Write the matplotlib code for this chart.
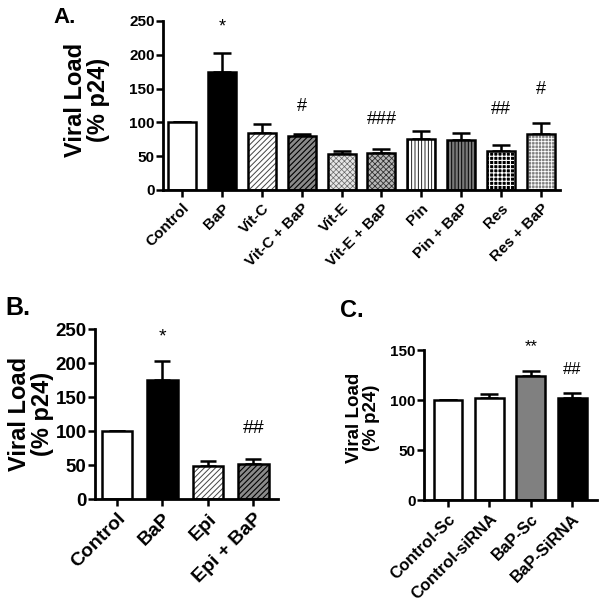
import numpy as np
import matplotlib
matplotlib.use("Agg")
import matplotlib.pyplot as plt

plt.rcParams['font.family'] = ['Liberation Sans', 'DejaVu Sans']
plt.rcParams['font.weight'] = 'bold'

# Panel A data
a_labels = ['Control', 'BaP', 'Vit-C', 'Vit-C + BaP', 'Vit-E', 'Vit-E + BaP',
            'Pin', 'Pin + BaP', 'Res', 'Res + BaP']
a_values = [100, 175, 84, 80, 53, 55, 76, 74, 57, 83]
a_err = [0, 28, 14, 3, 4, 5, 11, 10, 9, 16]
a_marks = ['', '*', '', '#', '', '###', '', '', '##', '#']
a_mark_y = [0, 241, 0, 123, 0, 104, 0, 0, 119, 149]

# Panel B data
b_labels = ['Control', 'BaP', 'Epi', 'Epi + BaP']
b_values = [100, 175, 48, 52]
b_err = [0, 28, 8, 7]
b_marks = ['', '*', '', '##']
b_mark_y = [0, 239, 0, 104]

# Panel C data
c_labels = ['Control-Sc', 'Control-siRNA', 'BaP-Sc', 'BaP-SiRNA']
c_values = [100, 102, 124, 102]
c_err = [0, 4, 5, 5]
c_marks = ['', '', '**', '##']
c_mark_y = [0, 0, 153, 130]

# bar styles: (facecolor, hatch, hatchcolor, hatch linewidth)
a_styles = [('white', None, 'black', 0),
            ('black', None, 'black', 0),
            ('white', '//////', '#444444', 0.7),
            ('#8a8a8a', '//////', 'black', 0.8),
            ('#e6e6e6', 'xxxxxx', '#666666', 0.5),
            ('#b8b8b8', 'xxxxxx', '#333333', 0.6),
            ('white', '|||||', 'black', 0.6),
            ('#7a7a7a', '|||||', 'black', 0.7),
            ('black', '++++', 'white', 0.8),
            ('#808080', '+++++', 'white', 0.6)]
b_styles = a_styles[:2] + a_styles[2:4]
c_styles = [('white', None, 'black', 0), ('white', None, 'black', 0),
            ('#808080', None, 'black', 0), ('black', None, 'black', 0)]


def draw_panel(ax, labels, values, err, marks, mark_y, styles, width,
               ymax, ystep, xlim, tick_fs, xlab_fs, mark_fs):
    x = np.arange(len(labels))
    for i in range(len(labels)):
        fc, hatch, hc, hlw = styles[i]
        if hatch is not None:
            with plt.rc_context({'hatch.linewidth': hlw}):
                ax.bar(x[i], values[i], width, color=fc, edgecolor=hc,
                       hatch=hatch, linewidth=0, zorder=2)
        else:
            ax.bar(x[i], values[i], width, color=fc, linewidth=0, zorder=2)
        ax.bar(x[i], values[i], width, fill=False, edgecolor='black',
               linewidth=1.8, zorder=3)
    lower = np.zeros(len(err))
    ax.errorbar(x, values, yerr=[lower, err], fmt='none', ecolor='black',
                elinewidth=1.8, capsize=width * 9, capthick=1.8, zorder=1)
    for i, m in enumerate(marks):
        if m:
            ax.text(x[i], mark_y[i], m, ha='center', va='center',
                    fontsize=mark_fs, fontweight='normal', clip_on=False)
    ax.set_xlim(*xlim)
    ax.set_ylim(0, ymax)
    ax.set_yticks(np.arange(0, ymax + 1, ystep))
    ax.set_xticks(x)
    ax.set_xticklabels(labels, rotation=45, ha='right',
                       rotation_mode='anchor', fontsize=xlab_fs)
    ax.tick_params(axis='y', labelsize=tick_fs, width=1.8, length=5, pad=1)
    ax.tick_params(axis='x', width=1.8, length=5, pad=3)
    for s in ['top', 'right']:
        ax.spines[s].set_visible(False)
    for s in ['left', 'bottom']:
        ax.spines[s].set_linewidth(2)


fig = plt.figure(figsize=(6, 6.01), dpi=100)

axA = fig.add_axes([163 / 600, 1 - 190 / 601, 397 / 600, 169 / 601])
draw_panel(axA, a_labels, a_values, a_err, a_marks, a_mark_y, a_styles, 0.7,
           250, 50, (-0.475, 9.475), 11, 11, 13)

axB = fig.add_axes([95 / 600, 1 - 499 / 601, 183 / 600, 170 / 601])
draw_panel(axB, b_labels, b_values, b_err, b_marks, b_mark_y, b_styles, 0.67,
           250, 50, (-0.48, 3.54), 13.5, 14, 14)

axC = fig.add_axes([424 / 600, 1 - 500 / 601, 173 / 600, 150 / 601])
draw_panel(axC, c_labels, c_values, c_err, c_marks, c_mark_y, c_styles, 0.7,
           150, 50, (-0.58, 3.6), 11, 12, 12)

# y labels and panel letters
fig.text(87 / 600, 1 - 100 / 601, 'Viral Load\n(% p24)', rotation=90,
         ha='center', va='center', multialignment='center', fontsize=17,
         linespacing=1.0)
fig.text(31 / 600, 1 - 414 / 601, 'Viral Load\n(% p24)', rotation=90,
         ha='center', va='center', multialignment='center', fontsize=17,
         linespacing=1.0)
fig.text(363 / 600, 1 - 418 / 601, 'Viral Load\n(% p24)', rotation=90,
         ha='center', va='center', multialignment='center', fontsize=13.5,
         linespacing=1.0)

fig.text(53 / 600, 1 - 23 / 601, 'A.', fontsize=16, va='baseline')
fig.text(5 / 600, 1 - 315 / 601, 'B.', fontsize=18, va='baseline')
fig.text(340 / 600, 1 - 317 / 601, 'C.', fontsize=17, va='baseline')

fig.savefig('out.png', dpi=100)
